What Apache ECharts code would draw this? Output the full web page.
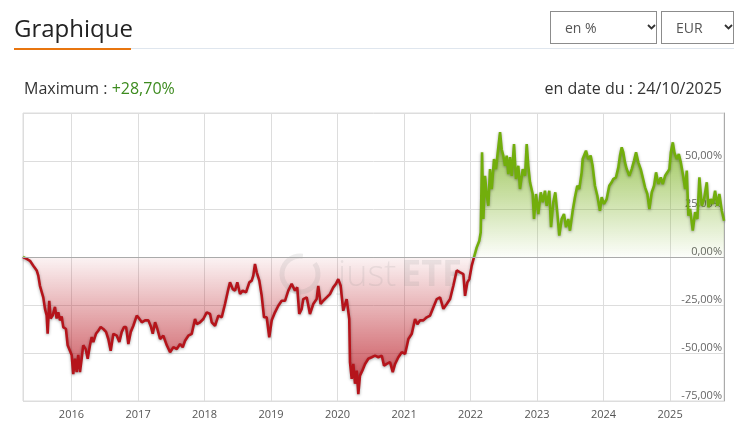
<!DOCTYPE html>
<html><head><meta charset="utf-8">
<script src="https://cdn.jsdelivr.net/npm/echarts@6/dist/echarts.min.js"></script>
<style>
html,body{margin:0;padding:0;background:#fff;width:741px;height:432px;overflow:hidden;font-family:"Open Sans",sans-serif;}
#chart{position:absolute;left:0;top:0;width:741px;height:432px;}
.h{position:absolute;white-space:nowrap;line-height:normal;}
.sel{position:absolute;top:11px;height:33px;border:1px solid #8c8c8c;box-sizing:border-box;font-size:14px;color:#555;}
.sel span{position:absolute;top:6px;}
.sel svg{position:absolute;top:12px;}
</style></head><body>
<div id="chart"></div>
<div class="h" style="left:14px;top:11px;font-size:24px;color:#222;">Graphique</div>
<div class="h" style="left:131px;top:48px;width:603px;height:1px;background:#dfe6ee;"></div>
<div class="h" style="left:14px;top:47.5px;width:117px;height:2.5px;background:#e8750f;"></div>
<div class="sel" style="left:550px;width:107px;"><span style="left:14px;">en %</span><svg width="9" height="6" style="left:96px;"><polyline points="1,1 4.5,4.5 8,1" fill="none" stroke="#333" stroke-width="1.8"/></svg></div>
<div class="sel" style="left:661px;width:73px;"><span style="left:14px;">EUR</span><svg width="9" height="6" style="left:62px;"><polyline points="1,1 4.5,4.5 8,1" fill="none" stroke="#333" stroke-width="1.8"/></svg></div>
<div class="h" style="left:24px;top:77px;font-size:16px;color:#333;">Maximum : <span style="color:#3d8b1f;">+28,70%</span></div>
<div class="h" style="right:19px;top:77px;font-size:16px;color:#333;">en date du : 24/10/2025</div>
<script>
// decimal-year positions of the sampled points
const yearPos = [
2015.271,2015.301,2015.326,2015.376,2015.426,2015.477,2015.501,2015.526,2015.552,2015.576,
2015.602,2015.627,2015.642,2015.666,2015.687,2015.717,2015.752,2015.777,2015.802,2015.827,
2015.853,2015.877,2015.917,2015.943,2015.977,2016.003,2016.027,2016.053,2016.078,2016.102,
2016.128,2016.153,2016.177,2016.214,2016.244,2016.278,2016.304,2016.328,2016.368,2016.403,
2016.439,2016.478,2016.519,2016.553,2016.589,2016.629,2016.680,2016.719,2016.755,2016.789,
2016.820,2016.854,2016.890,2016.929,2016.980,2017.015,2017.056,2017.105,2017.155,2017.195,
2017.221,2017.256,2017.290,2017.331,2017.380,2017.432,2017.481,2017.531,2017.582,2017.632,
2017.672,2017.707,2017.756,2017.808,2017.857,2017.883,2017.932,2017.982,2018.033,2018.083,
2018.108,2018.158,2018.208,2018.259,2018.308,2018.358,2018.383,2018.424,2018.459,2018.493,
2018.534,2018.574,2018.624,2018.674,2018.710,2018.734,2018.759,2018.785,2018.824,2018.860,
2018.895,2018.935,2018.974,2019.011,2019.060,2019.110,2019.161,2019.211,2019.260,2019.311,
2019.361,2019.395,2019.425,2019.462,2019.486,2019.537,2019.586,2019.636,2019.687,2019.711,
2019.747,2019.786,2019.838,2019.887,2019.937,2019.977,2020.012,2020.048,2020.087,2020.138,
2020.177,2020.188,2020.214,2020.238,2020.263,2020.289,2020.313,2020.338,2020.373,2020.414,
2020.463,2020.514,2020.564,2020.614,2020.665,2020.699,2020.740,2020.789,2020.830,2020.865,
2020.914,2020.965,2021.015,2021.065,2021.116,2021.165,2021.200,2021.241,2021.290,2021.341,
2021.391,2021.441,2021.492,2021.541,2021.591,2021.642,2021.692,2021.741,2021.792,2021.842,
2021.892,2021.917,2021.952,2021.982,2022.018,2022.053,2022.093,2022.132,2022.153,2022.173,
2022.193,2022.218,2022.244,2022.268,2022.293,2022.319,2022.353,2022.383,2022.409,2022.444,
2022.469,2022.493,2022.519,2022.544,2022.568,2022.594,2022.620,2022.654,2022.684,2022.719,
2022.744,2022.785,2022.820,2022.845,2022.869,2022.895,2022.935,2022.955,2022.985,2023.020,
2023.056,2023.086,2023.120,2023.146,2023.185,2023.211,2023.245,2023.275,2023.305,2023.335,
2023.371,2023.406,2023.436,2023.471,2023.496,2023.537,2023.571,2023.606,2023.636,2023.672,
2023.687,2023.737,2023.771,2023.807,2023.837,2023.872,2023.907,2023.947,2023.973,2024.008,
2024.048,2024.087,2024.123,2024.147,2024.188,2024.223,2024.248,2024.274,2024.298,2024.323,
2024.349,2024.388,2024.424,2024.459,2024.489,2024.523,2024.559,2024.589,2024.624,2024.659,
2024.689,2024.725,2024.759,2024.789,2024.824,2024.860,2024.890,2024.925,2024.959,2024.989,
2025.011,2025.041,2025.065,2025.101,2025.131,2025.161,2025.200,2025.226,2025.251,2025.275,
2025.301,2025.341,2025.376,2025.410,2025.441,2025.477,2025.511,2025.552,2025.576,2025.612,
2025.642,2025.677,2025.711,2025.741,2025.778,2025.812
];
// performance in %
const pctValues = [
0,1,-1,-2,-4.5,-7,-9.7,-15,-15.6,-21,
-27,-30.5,-40,-22.8,-32,-30.5,-26,-32,-28.8,-33,
-31,-36.5,-37.5,-46,-48.8,-51,-61,-53,-60,-51,
-60,-53,-46,-48,-53,-46,-41.7,-44.3,-40,-38.4,
-36.5,-37.5,-39,-42.7,-48.8,-40,-41,-44.3,-39,-36.5,
-36.5,-45.3,-39,-35.8,-30.5,-32,-34,-33,-33,-36.5,
-40,-34,-37.5,-42.7,-41,-46,-49.6,-47,-48,-45.3,
-47,-43.6,-41,-40,-32.3,-35,-34,-32.3,-28.8,-29.7,
-34,-35.8,-30.5,-31.4,-24.5,-16.7,-13.2,-16.7,-17.5,-13.2,
-19.3,-17.5,-18.4,-13.2,-12.3,-9.7,-3.6,-8,-12.3,-20.2,
-31.4,-31.4,-41.8,-33,-28.8,-25.4,-22.8,-22.8,-17.5,-14,
-17.5,-15.8,-29.7,-27,-21.9,-21,-29.7,-24.5,-21.9,-15,
-24.5,-22.8,-21,-19.3,-15.8,-14,-11.5,-15,-28,-21.9,
-32.3,-54.8,-63.5,-55.7,-66,-59.2,-71.4,-61.8,-59.2,-55.7,
-53,-52.2,-51.4,-52.2,-51.4,-56.6,-55.7,-54.8,-60,-55.7,
-52.2,-49.6,-50.5,-42.7,-40,-32.3,-35,-33,-33,-31.4,
-30.5,-26.2,-21.9,-21,-27,-24.5,-21.9,-15,-7,-8,
-8.9,-20.2,-13.2,-11.5,-4.5,0,5,8.5,12.9,54.5,
19.8,42.3,32,26.7,45.8,35.4,51,45.8,54.5,65,
56,52.8,47.5,52.8,43.2,52,42.3,58.8,40.6,47.5,
35.4,45.8,42.3,58.8,47.5,38.9,32.8,19.8,32.8,22.4,
33.7,28.5,34.5,26.7,34.5,15.5,28.5,33.7,23.3,11.1,
19.8,22.4,15.5,19.8,13.7,24.1,31.1,37.1,35.4,44.1,
51,55.4,51,52.8,47.5,37.1,32,24.1,31.1,27.6,
30.2,37.1,38.9,40.6,41.5,46.7,52.8,57.1,54.5,49.3,
45.8,42.3,45.8,50.2,54.5,49.3,45.8,41.5,36.3,32.8,
25,33.7,37.1,44.1,38,41.5,38,42.3,44.1,45.8,
54.5,59.7,54.5,51,53.6,49.3,41.5,35.4,45,21.5,
25,13.7,23.3,19.8,41.5,26.7,30.2,38.9,25.9,30.2,
27.6,34.5,26.7,32.8,24.1,18.9
];
const yTicks = {min: -75, max: 75, step: 25};
const axisStart = 2015.271;
const axisEnd = '2025-10-24';

function toTime(t) {
  const y = Math.floor(t);
  const a = new Date(y, 0, 1).getTime(), b = new Date(y + 1, 0, 1).getTime();
  return a + (t - y) * (b - a);
}
const seriesData = yearPos.map((t, i) => [toTime(t), pctValues[i]]);
const endParts = axisEnd.split('-').map(Number);
const endTime = new Date(endParts[0], endParts[1] - 1, endParts[2]).getTime();

const chart = echarts.init(document.getElementById('chart'), null, {renderer: 'canvas'});
const gTop = 113, gBottom = 401;
const zeroOff = (yTicks.max - 0) / (yTicks.max - yTicks.min);
chart.setOption({
  animation: false,
  grid: {left: 23, right: 17, top: gTop, bottom: 432 - gBottom, show: true, borderColor: '#dddddd', borderWidth: 1, containLabel: false},
  xAxis: {
    type: 'time', min: toTime(axisStart), max: endTime,
    minInterval: 365 * 864e5, maxInterval: 366 * 864e5,
    axisLine: {show: true, lineStyle: {color: '#aaaaaa', width: 1}},
    axisTick: {show: false},
    axisLabel: {color: '#555', fontSize: 11, fontFamily: 'Open Sans', margin: 8, fontWeight: 'normal',
      formatter: v => String(new Date(v).getFullYear())},
    splitLine: {show: true, lineStyle: {color: '#dddddd', width: 1}}
  },
  yAxis: {
    type: 'value', position: 'right', min: yTicks.min, max: yTicks.max, interval: yTicks.step,
    axisLine: {show: true, lineStyle: {color: '#aaaaaa', width: 1}},
    axisTick: {show: false},
    axisLabel: {inside: true, color: '#666', fontSize: 11, fontFamily: 'Open Sans', margin: 2,
      verticalAlign: 'bottom',
      formatter: v => v === yTicks.max ? '' : v.toFixed(2).replace('.', ',') + '%'},
    splitLine: {show: true, lineStyle: {color: '#dddddd', width: 1}}
  },
  graphic: [
    {type: 'arc', z: 2, shape: {cx: 300, cy: 274, r: 18, startAngle: -0.2 * Math.PI, endAngle: 1.55 * Math.PI},
      style: {stroke: 'rgba(140,140,140,0.16)', lineWidth: 5, fill: null}},
    {type: 'text', z: 2, x: 338, y: 258, style: {text: 'just', font: '300 36px "Open Sans"', fill: 'rgba(140,140,140,0.16)'}},
    {type: 'text', z: 2, x: 401, y: 258, style: {text: 'ETF', font: 'bold 36px "Open Sans"', fill: 'rgba(140,140,140,0.16)'}}
  ],
  series: [
    {
      type: 'line', z: 1, data: seriesData, showSymbol: false, silent: true,
      lineStyle: {width: 0, opacity: 0},
      areaStyle: {opacity: 1, color: {type: 'linear', x: 0, y: gTop, x2: 0, y2: gBottom, global: true,
        colorStops: [
          {offset: 0, color: 'rgba(110,170,10,0.85)'},
          {offset: zeroOff, color: 'rgba(110,170,10,0.02)'},
          {offset: zeroOff + 0.001, color: 'rgba(185,25,35,0.05)'},
          {offset: 1, color: 'rgba(185,25,35,0.85)'}
        ]}},
      markLine: {silent: true, symbol: 'none', label: {show: false},
        lineStyle: {color: '#aaaaaa', width: 1, type: 'solid'}, data: [{yAxis: 0}]}
    },
    {
      type: 'line', z: 3, data: seriesData, showSymbol: false, silent: true,
      lineStyle: {width: 2.6, shadowColor: 'rgba(0,0,0,0.35)', shadowBlur: 3, shadowOffsetY: 1,
        color: {type: 'linear', x: 0, y: gTop, x2: 0, y2: gBottom, global: true,
          colorStops: [
            {offset: 0, color: '#72ae0c'},
            {offset: zeroOff, color: '#72ae0c'},
            {offset: zeroOff, color: '#b5141b'},
            {offset: 1, color: '#b5141b'}
          ]}}
    }
  ]
});
</script>
</body></html>
